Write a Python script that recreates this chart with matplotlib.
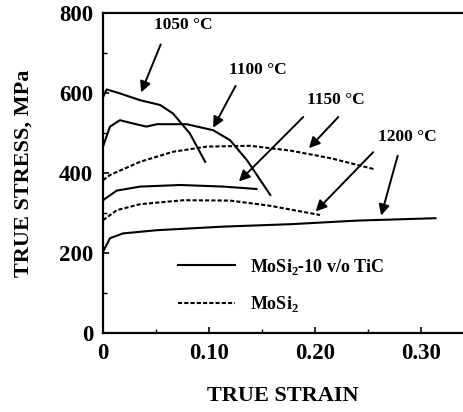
import matplotlib
matplotlib.use('Agg')
import matplotlib.pyplot as plt

plt.rcParams['font.family'] = ['Liberation Serif', 'DejaVu Serif']
plt.rcParams['font.weight'] = 'bold'
plt.rcParams['mathtext.fontset'] = 'custom'
plt.rcParams['mathtext.rm'] = 'Liberation Serif:bold'
plt.rcParams['mathtext.bf'] = 'Liberation Serif:bold'

# MoSi2-10 v/o TiC (solid)
strain_1050 = [0.0, 0.0035, 0.016, 0.035, 0.054, 0.066, 0.082, 0.0965]
stress_1050 = [590, 609, 599, 582, 570, 549, 499, 428]

strain_1100 = [0.0, 0.0066, 0.016, 0.028, 0.041, 0.051, 0.079, 0.104, 0.12, 0.136, 0.158]
stress_1100 = [466, 516, 532, 524, 516, 522, 522, 507, 482, 432, 345]

strain_1150 = [0.0, 0.013, 0.035, 0.073, 0.114, 0.145]
stress_1150 = [332, 356, 366, 370, 366, 360]

strain_1200 = [0.0, 0.0066, 0.019, 0.051, 0.114, 0.177, 0.24, 0.314]
stress_1200 = [203, 237, 249, 257, 266, 272, 281, 287]

# MoSi2 (dashed)
strain_1150m = [0.0, 0.0066, 0.035, 0.066, 0.098, 0.139, 0.177, 0.215, 0.257]
stress_1150m = [382, 395, 428, 453, 466, 468, 456, 437, 409]

strain_1200m = [0.0, 0.013, 0.035, 0.076, 0.12, 0.158, 0.205]
stress_1200m = [282, 307, 322, 332, 331, 318, 295]

fig = plt.figure(figsize=(4.64, 4.12), dpi=100)
ax = fig.add_axes([103 / 464, 1 - 333 / 412, 360 / 464, 320 / 412])

lw = 1.5
l1, = ax.plot(strain_1050, stress_1050, 'k-', lw=lw)
ax.plot(strain_1100, stress_1100, 'k-', lw=lw)
ax.plot(strain_1150, stress_1150, 'k-', lw=lw)
ax.plot(strain_1200, stress_1200, 'k-', lw=lw)
l2, = ax.plot(strain_1150m, stress_1150m, 'k--', lw=lw, dashes=(2, 1))
ax.plot(strain_1200m, stress_1200m, 'k--', lw=lw, dashes=(2, 1))

ax.set_xlim(0, 0.34)
ax.set_ylim(0, 800)
ax.set_xticks([0, 0.10, 0.20, 0.30])
ax.set_xticklabels(['0', '0.10', '0.20', '0.30'])
ax.set_xticks([0.05, 0.15, 0.25], minor=True)
ax.set_yticks([0, 200, 400, 600, 800])
ax.set_yticks([100, 300, 500, 700], minor=True)
ax.tick_params(direction='in', length=4, width=1.2, labelsize=16.5, pad=7)
ax.tick_params(which='minor', direction='in', length=3, width=1)
ax.spines['right'].set_visible(False)
for s in ['left', 'bottom', 'top']:
    ax.spines[s].set_linewidth(1.6)

ax.set_xlabel('TRUE STRAIN', fontsize=16, fontweight='bold', labelpad=16)
ax.set_ylabel('TRUE STRESS, MPa', fontsize=16, fontweight='bold', labelpad=18)

arrow = dict(arrowstyle='-|>', color='k', lw=1.4, mutation_scale=16)
fs = 12.5
ax.text(0.0757, 770, '1050 °C', fontsize=fs, ha='center', va='center', fontweight='bold')
ax.annotate('', xy=(0.035, 595), xytext=(0.0555, 728), arrowprops=arrow)
ax.text(0.146, 657, '1100 °C', fontsize=fs, ha='center', va='center', fontweight='bold')
ax.annotate('', xy=(0.1028, 507), xytext=(0.1265, 624), arrowprops=arrow)
ax.text(0.2204, 582, '1150 °C', fontsize=fs, ha='center', va='center', fontweight='bold')
ax.annotate('', xy=(0.1265, 374), xytext=(0.191, 545), arrowprops=arrow)
ax.annotate('', xy=(0.1927, 457), xytext=(0.224, 545), arrowprops=arrow)
ax.text(0.2873, 491, '1200 °C', fontsize=fs, ha='center', va='center', fontweight='bold')
ax.annotate('', xy=(0.199, 299), xytext=(0.257, 457), arrowprops=arrow)
ax.annotate('', xy=(0.262, 287), xytext=(0.279, 450), arrowprops=arrow)

ax.legend([l1, l2], [r'MoSi$_\mathbf{2}$-10 v/o TiC', r'MoSi$_\mathbf{2}$'],
          loc='lower left', bbox_to_anchor=(0.162, 0.009), frameon=False,
          fontsize=13, handlelength=3.2, labelspacing=0.95, handletextpad=0.8)

fig.savefig('out.png', dpi=100)
